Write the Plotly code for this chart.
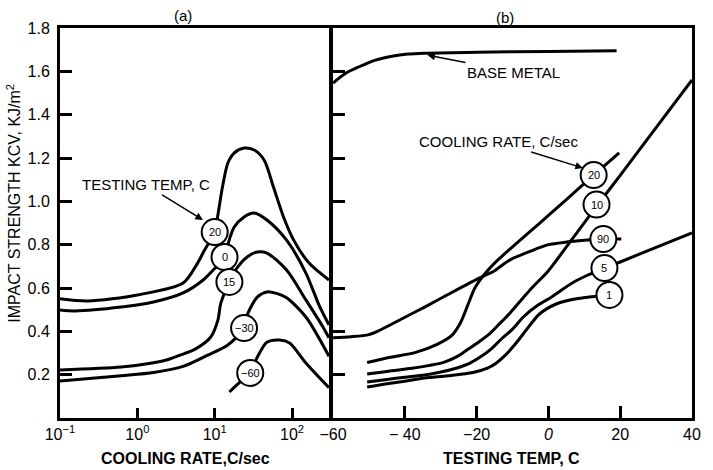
import math
import plotly.graph_objects as go

FONT = "Liberation Sans, Arial, Helvetica, sans-serif"

# ---------------- Panel (a): KCV vs cooling rate, one curve per testing temperature
rate_t20 = [0.1, 0.23, 1.0, 3.9, 6.0, 7.4, 10.0, 11.0, 12.6, 14.8, 17.8, 24.0, 32.4, 43.7, 57.5, 77.6, 105, 166, 300]
kcv_t20 = [0.55, 0.54, 0.568, 0.623, 0.715, 0.775, 0.858, 0.937, 1.066, 1.177, 1.223, 1.246, 1.237, 1.19, 1.066, 0.928, 0.821, 0.715, 0.637]

rate_t0 = [0.1, 0.155, 0.62, 1.62, 3.9, 7.1, 10.0, 13.5, 14.8, 17.8, 24.0, 32.4, 47.3, 85, 151, 224, 300]
kcv_t0 = [0.498, 0.494, 0.512, 0.535, 0.577, 0.637, 0.69, 0.743, 0.80, 0.88, 0.928, 0.946, 0.914, 0.821, 0.669, 0.52, 0.43]

rate_t15 = [0.1, 0.62, 1.62, 2.5, 3.9, 5.6, 8.9, 11.0, 12.0, 15.5, 18.6, 26.3, 35.5, 47.3, 85, 151, 251, 300]
kcv_t15 = [0.222, 0.235, 0.255, 0.27, 0.295, 0.318, 0.374, 0.452, 0.53, 0.628, 0.683, 0.743, 0.766, 0.761, 0.683, 0.545, 0.42, 0.37]

rate_tm30 = [0.1, 0.62, 1.62, 3.9, 8.1, 14.8, 24.0, 26.3, 35.5, 47.3, 63.0, 85, 151, 300]
kcv_tm30 = [0.171, 0.195, 0.21, 0.238, 0.29, 0.337, 0.415, 0.475, 0.558, 0.582, 0.575, 0.555, 0.466, 0.285]

rate_tm60 = [15.5, 21.0, 28.8, 35.5, 47.3, 69.0, 93.0, 151, 300]
kcv_tm60 = [0.12, 0.164, 0.208, 0.28, 0.35, 0.36, 0.346, 0.254, 0.14]

temp_labels = ["20", "0", "15", "−30", "−60"]
temp_label_rate = [10.0, 13.4, 15.5, 24.0, 28.8]
temp_label_kcv = [0.858, 0.743, 0.628, 0.415, 0.208]

rate_ticks = [0.1, 1, 10, 100]
rate_ticktext = ["10<sup>−1</sup>", "10<sup>0</sup>", "10<sup>1</sup>", "10<sup>2</sup>"]

# ---------------- Panel (b): KCV vs testing temperature, one curve per cooling rate
temp_base = [-60, -56.4, -52.9, -48.2, -43.6, -39.2, -34.5, -20, 0, 19]
kcv_base = [1.546, 1.592, 1.62, 1.652, 1.67, 1.68, 1.684, 1.688, 1.692, 1.695]

temp_cr20 = [-50.5, -44, -37, -31, -27, -24.5, -22.5, -20.5, -18, -15, -10, -5, 0, 5, 12.6, 19.7]
kcv_cr20 = [0.256, 0.28, 0.303, 0.34, 0.38, 0.44, 0.52, 0.60, 0.66, 0.715, 0.79, 0.862, 0.935, 1.008, 1.121, 1.224]

temp_cr10 = [-50.5, -45, -38, -33, -29, -25.5, -22.7, -19.5, -16.2, -13.5, -10.7, -5.2, 0, 5, 13.4, 20, 30, 40]
kcv_cr10 = [0.203, 0.215, 0.23, 0.243, 0.258, 0.283, 0.314, 0.35, 0.392, 0.437, 0.485, 0.59, 0.68, 0.79, 0.977, 1.12, 1.34, 1.56]

temp_cr90 = [-60, -55, -50, -47, -40, -34.5, -28, -20, -15, -10.7, -5, 0, 5, 10, 15.3, 20.3]
kcv_cr90 = [0.37, 0.375, 0.385, 0.405, 0.465, 0.512, 0.57, 0.64, 0.68, 0.73, 0.77, 0.80, 0.812, 0.82, 0.826, 0.826]

temp_cr5 = [-50.5, -45, -40, -34.5, -30, -25.5, -22, -19, -16, -13.4, -10, -7, -3, 1, 6.6, 11, 15.6, 20, 30, 40]
kcv_cr5 = [0.166, 0.178, 0.188, 0.198, 0.212, 0.231, 0.252, 0.281, 0.318, 0.36, 0.41, 0.466, 0.52, 0.56, 0.623, 0.66, 0.692, 0.72, 0.788, 0.854]

temp_cr1 = [-50.5, -45, -40, -34.5, -28, -21, -17, -14.5, -12, -9, -6, -2.5, 2, 7, 12, 17]
kcv_cr1 = [0.143, 0.158, 0.17, 0.185, 0.195, 0.21, 0.23, 0.254, 0.29, 0.346, 0.41, 0.48, 0.525, 0.548, 0.56, 0.568]

rate_labels = ["20", "10", "90", "5", "1"]
rate_label_temp = [12.6, 13.4, 15.3, 15.6, 17.0]
rate_label_kcv = [1.121, 0.985, 0.826, 0.692, 0.568]

temp_ticks = [-60, -40, -20, 0, 20, 40]
temp_ticktext = ["−60", "− 40", "−20", "<i>0</i>", "20", "40"]

kcv_ticks = [0.2, 0.4, 0.6, 0.8, 1.0, 1.2, 1.4, 1.6, 1.8]
kcv_ticktext = ["0.2", "0.4", "0.6", "0.8", "1.0", "1.2", "1.4", "1.6", "1.8"]

LINE = dict(color="black", width=3, shape="spline", smoothing=0.8)

fig = go.Figure()

for xs, ys in [(rate_t20, kcv_t20), (rate_t0, kcv_t0), (rate_t15, kcv_t15),
               (rate_tm30, kcv_tm30), (rate_tm60, kcv_tm60)]:
    fig.add_trace(go.Scatter(x=xs, y=ys, mode="lines", line=LINE,
                             xaxis="x", yaxis="y", hoverinfo="skip", showlegend=False))

for xs, ys in [(temp_base, kcv_base), (temp_cr20, kcv_cr20), (temp_cr10, kcv_cr10),
               (temp_cr90, kcv_cr90), (temp_cr5, kcv_cr5), (temp_cr1, kcv_cr1)]:
    fig.add_trace(go.Scatter(x=xs, y=ys, mode="lines", line=LINE,
                             xaxis="x2", yaxis="y2", hoverinfo="skip", showlegend=False))

# white circles that carry the curve labels
CIRCLE = dict(size=26, color="white", line=dict(color="black", width=2))
fig.add_trace(go.Scatter(x=temp_label_rate, y=temp_label_kcv, mode="markers",
                         marker=CIRCLE, xaxis="x", yaxis="y",
                         hoverinfo="skip", showlegend=False, cliponaxis=False))
fig.add_trace(go.Scatter(x=rate_label_temp, y=rate_label_kcv, mode="markers",
                         marker=CIRCLE, xaxis="x2", yaxis="y2",
                         hoverinfo="skip", showlegend=False, cliponaxis=False))

AX = dict(showline=True, linewidth=3, linecolor="black", mirror=True,
          showgrid=False, zeroline=False, ticks="inside", tickwidth=3,
          tickcolor="black", tickfont=dict(size=16, color="black", family=FONT))

fig.update_layout(
    width=713, height=470,
    margin=dict(l=60, r=12, t=28, b=52),
    paper_bgcolor="white", plot_bgcolor="white",
    font=dict(family=FONT, color="black"),
    xaxis=dict(AX, type="log", range=[-1, 2.48], domain=[0, 0.4259],
               tickvals=rate_ticks, ticktext=rate_ticktext, ticklen=10, anchor="y"),
    yaxis=dict(AX, range=[0, 1.8], tickvals=kcv_ticks, ticktext=kcv_ticktext,
               ticklen=12, anchor="x", ticklabelstandoff=4),
    xaxis2=dict(AX, range=[-60, 40], domain=[0.4321, 1],
                tickvals=temp_ticks, ticktext=temp_ticktext, ticklen=12, anchor="y2"),
    yaxis2=dict(AX, range=[0, 1.8], tickvals=kcv_ticks, showticklabels=False,
                ticklen=12, anchor="x2"),
)

ann = []
C = dict(xanchor="center", yanchor="middle", showarrow=False)
# panel captions
ann.append(dict(C, text="(a)", xref="x", yref="paper", x=0.592, y=1.033, font=dict(size=15)))
ann.append(dict(C, text="(b)", xref="x2", yref="paper", x=-12.1, y=1.026, font=dict(size=15)))
# axis titles
ann.append(dict(C, text="<b>COOLING RATE,C/sec</b>", xref="x", yref="paper",
                x=0.618, y=-0.1026, font=dict(size=16)))
ann.append(dict(C, text="<b>TESTING TEMP, C</b>", xref="x2", yref="paper",
                x=-10.4, y=-0.1026, font=dict(size=16)))
ann.append(dict(C, text="IMPACT STRENGTH KCV, KJ/m<sup>2</sup>", xref="paper", yref="paper",
                x=-0.0733, y=0.551, textangle=-90, font=dict(size=16)))

# numbers inside the circles (log axis: annotation x is log10 of the rate)
for t, r, k in zip(temp_labels, temp_label_rate, temp_label_kcv):
    ann.append(dict(C, text=t, xref="x", yref="y", x=math.log10(r), y=k,
                    font=dict(size=11)))
for t, tt, k in zip(rate_labels, rate_label_temp, rate_label_kcv):
    ann.append(dict(C, text=t, xref="x2", yref="y2", x=tt, y=k, font=dict(size=11)))

# callouts with leader arrows
ARROW = dict(showarrow=True, arrowhead=2, arrowsize=1, arrowwidth=1.5,
             arrowcolor="black", standoff=0, axref="pixel", ayref="pixel")
ann.append(dict(ARROW, text="TESTING TEMP, C", xref="x", yref="y", x=0.847, y=0.914,
                ax=-57, ay=-35, font=dict(size=15)))
ann.append(dict(ARROW, text="BASE METAL", xref="x2", yref="y2", x=-33.7, y=1.675,
                ax=86, ay=17, font=dict(size=15)))
ann.append(dict(ARROW, text="COOLING RATE, C/sec", xref="x2", yref="y2", x=9.6, y=1.154,
                ax=-84, ay=-26, font=dict(size=15)))
fig.update_layout(annotations=ann)

fig.write_html("out.html")
